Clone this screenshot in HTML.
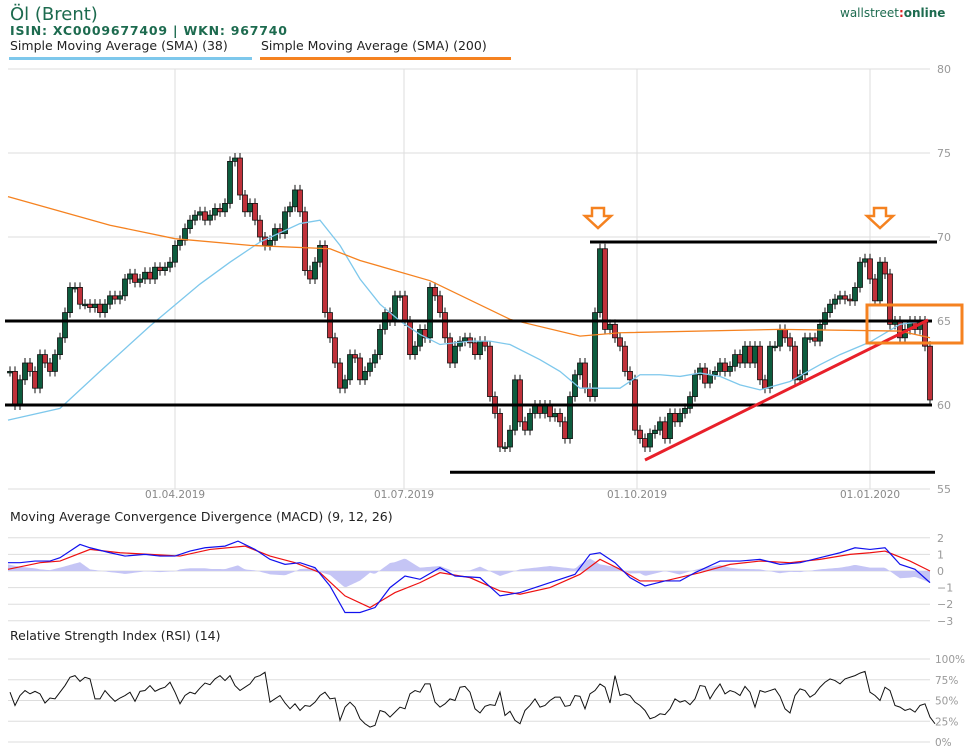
<!DOCTYPE html>
<html><head><meta charset="utf-8"><style>
body{margin:0;background:#fff;width:976px;height:750px;overflow:hidden;font-family:"DejaVu Sans","Liberation Sans",sans-serif}
svg{position:absolute;left:0;top:0}
</style></head><body>
<svg id="c" width="976" height="750" xmlns="http://www.w3.org/2000/svg">
<text x="10" y="20" font-size="18" fill="#1d6b4f">Öl (Brent)</text>
<text x="10" y="35" font-size="12.5" font-weight="bold" fill="#1d6b4f" letter-spacing="0.8">ISIN: XC0009677409  | WKN: 967740</text>
<text x="10" y="50" font-size="12.5" fill="#222">Simple Moving Average (SMA) (38)</text>
<rect x="9" y="57" width="243" height="3" fill="#7ec8ec"/>
<text x="261" y="50" font-size="12.5" fill="#222">Simple Moving Average (SMA) (200)</text>
<rect x="260" y="57" width="251" height="3" fill="#f58220"/>
<text x="840" y="17" font-size="12" fill="#1d6b4f">wallstreet<tspan fill="#d22" font-weight="bold">:</tspan><tspan font-weight="bold">online</tspan></text>
<text x="10" y="521" font-size="12.5" fill="#222">Moving Average Convergence Divergence (MACD) (9, 12, 26)</text>
<text x="10" y="640" font-size="12.5" fill="#222">Relative Strength Index (RSI) (14)</text>
<g id="g"></g>
</svg>
<script>
const closes=[62,60,61.5,62.5,62,61,63,62.5,62,63,64,65.5,67,67,66,66,65.8,66,65.5,66,66.5,66.3,66.5,67.5,67.8,67.3,67.5,67.9,67.5,68.2,68,68.2,68.5,69.5,69.8,70.5,71,71.3,71.5,71,71.3,71.7,71.5,72,74.5,74.7,72.5,71.5,72,71,70,69.5,69.8,70.5,70.2,71.5,71.8,72.8,71.5,68,67.5,68.5,69.5,65.5,64,62.5,61,61.5,63,62.8,61.5,62,62.5,63,64.5,65.5,65,66.5,66.5,65,63,63.5,64.5,64,67,66.5,65.5,64,62.5,63.5,63.8,64,63.7,63,63.8,63.5,60.5,59.5,57.5,57.5,58.5,61.5,59,58.5,59.5,60,59.5,60,59.3,59.5,59,58,60.5,61.8,62.5,61,60.5,65.5,69.3,64.5,64.8,64,63.5,62,61.5,58.5,58,57.5,58.3,58.5,59,58,59.5,59,59.5,59.8,60.5,61.8,62.2,61.3,61.8,62,62.5,62,62.3,63,62.5,63.5,62.5,63.5,61.5,61,63.5,63.5,64.5,64,63.5,61.5,61.8,64,64,63.8,64.8,65.5,66,66.3,66.5,66.3,66.2,67,68.5,68.7,67.5,66.2,68.5,67.8,64.8,65,64,64.5,65,64.5,65,63.5,60.3];
const smaX=[8,60,100,150,200,230,260,300,320,340,360,380,400,420,440,470,490,510,540,560,580,600,620,640,660,680,700,720,740,760,790,820,840,870,900,925];
const sma38=[59.1,59.8,62,64.7,67.2,68.5,69.7,70.8,71,69.5,67.5,66,65,64.2,63.6,63.8,63.8,63.6,62.7,62,61,61,61,61.8,61.8,61.7,61.9,61.7,61.2,60.9,61.4,62.4,63,63.75,64.8,65];
const sma200X=[8,110,175,250,330,360,430,510,580,620,780,900,930];
const sma200=[72.4,70.7,69.9,69.5,69.3,68.6,67.4,65.1,64.1,64.3,64.5,64.4,64];
const macdX=[8,20,35,50,60,80,90,110,125,145,160,175,190,205,225,238,255,270,285,300,315,330,345,360,375,390,405,420,440,455,480,500,520,540,555,575,590,600,615,630,645,665,680,695,720,740,760,780,800,820,840,855,870,885,900,915,930];
const macdLine=[0.5,0.5,0.6,0.6,0.8,1.6,1.4,1.1,0.9,1.0,0.9,0.9,1.2,1.4,1.5,1.8,1.3,0.7,0.4,0.5,0.2,-0.9,-2.5,-2.5,-2.2,-1.0,-0.3,-0.5,0.2,-0.3,-0.4,-1.5,-1.3,-0.9,-0.6,-0.2,1.0,1.1,0.5,-0.4,-0.9,-0.6,-0.6,-0.1,0.6,0.6,0.7,0.4,0.5,0.8,1.1,1.4,1.3,1.4,0.4,0.1,-0.7];
const sigX=[8,40,60,90,120,150,180,210,245,270,295,320,345,370,395,420,440,470,500,520,550,580,600,620,640,665,700,730,760,790,820,850,870,885,910,930];
const sigLine=[0.1,0.5,0.6,1.3,1.1,1.0,0.9,1.3,1.5,0.9,0.5,-0.1,-1.5,-2.2,-1.3,-0.7,-0.1,-0.4,-1.2,-1.4,-1.0,-0.2,0.7,0.1,-0.6,-0.6,-0.1,0.4,0.6,0.5,0.7,1.0,1.1,1.2,0.6,0.0];
const rsi=[60,44,56,62,58,61,58,47,53,52,60,68,78,80,73,78,76,52,52,62,55,49,53,56,60,49,61,62,68,61,64,66,72,60,46,56,60,58,65,71,69,76,80,74,80,68,62,66,70,78,80,84,48,52,56,47,40,46,38,44,43,48,56,60,52,53,26,42,48,42,28,22,18,20,38,36,30,36,42,40,58,62,60,70,70,48,42,46,52,50,66,67,60,40,35,43,45,44,60,32,37,26,22,38,44,52,42,44,50,54,54,43,44,56,55,40,58,62,70,66,47,80,56,58,56,48,44,38,28,30,34,33,40,52,48,50,45,52,68,67,52,62,70,58,62,60,56,67,60,42,62,60,62,64,55,40,35,56,64,62,54,58,66,72,76,74,70,76,78,80,83,85,60,56,50,66,62,44,42,38,40,36,44,46,30,22];
const priceTicks=[80,75,70,65,60,55];
const macdTicks=[2,1,0,-1,-2,-3];
const rsiTicks=[100,75,50,25,0];
const dateLabels=["01.04.2019","01.07.2019","01.10.2019","01.01.2020"];
const datePos=[175,404,637,870];

const NS="http://www.w3.org/2000/svg",G=document.getElementById('g');
function el(t,a){const e=document.createElementNS(NS,t);for(const k in a)e.setAttribute(k,a[k]);G.appendChild(e);return e;}
const yP=v=>69+(80-v)*16.8, yM=v=>571-v*16.6, yR=v=>742-v*0.83, xI=i=>10+i*5;
const L=8,R=930;
// grids
priceTicks.forEach(t=>{const l=el('line',{x1:L,x2:R,y1:yP(t),y2:yP(t),stroke:'#ddd'});


const tx=el('text',{x:937,y:yP(t)+4,'font-size':11,fill:'#999'});tx.textContent=t;

});
datePos.forEach((x,i)=>{const l=el('line',{x1:x,x2:x,y1:69,y2:489,stroke:'#ddd'});


const tx=el('text',{x:x,y:498,'font-size':10.5,fill:'#888','text-anchor':'middle'});tx.textContent=dateLabels[i];

});
macdTicks.forEach(t=>{const l=el('line',{x1:L,x2:R,y1:yM(t),y2:yM(t),stroke:'#ddd'});


const tx=el('text',{x:937,y:yM(t)+4,'font-size':11,fill:'#999'});tx.textContent=t<0?'−'+(-t):t;

});
rsiTicks.forEach(t=>{const l=el('line',{x1:L,x2:R,y1:yR(t),y2:yR(t),stroke:'#ddd'});


const tx=el('text',{x:935,y:yR(t)+4,'font-size':10.5,fill:'#999'});tx.textContent=t+'%';

});
function poly(xs,vs,f,col,w,name){const p=el('polyline',{points:xs.map((x,i)=>x+','+f(vs[i])).join(' '),fill:'none',stroke:col,'stroke-width':w});

return p;}
// candles
closes.forEach((c,i)=>{const o=i?closes[i-1]:c,x=xI(i),up=c>=o;
const hi=Math.max(o,c)+0.3,lo=Math.min(o,c)-0.3;
const w=el('line',{x1:x,x2:x,y1:yP(hi),y2:yP(lo),stroke:'#111','stroke-width':1});


const y1=yP(Math.max(o,c)),h=Math.max(1.5,yP(Math.min(o,c))-y1);
const b=el('rect',{x:x-2.5,y:y1,width:5,height:h,fill:up?'#0d5c3e':'#c0313a',stroke:'#111','stroke-width':0.8});

});
poly(smaX,sma38,yP,'#7ec8ec',1.3,'sma38-line');
poly(sma200X,sma200,yP,'#f58220',1.3,'sma200-line');
// annotations
[[590,937,69.7],[5,932,65],[5,932,60],[450,935,56]].forEach(a=>{const l=el('line',{x1:a[0],x2:a[1],y1:yP(a[2]),y2:yP(a[2]),stroke:'#000','stroke-width':3});

});
const tl=el('line',{x1:645,y1:460,x2:928,y2:320,stroke:'#e8202a','stroke-width':3});


[598,880].forEach(x=>{const a=el('path',{d:`M${x-6},208 h12 v8 h7 l-13,12 l-13,-12 h7z`,fill:'#fff',stroke:'#f58220','stroke-width':2.5});

});
const bx=el('rect',{x:867,y:305,width:95,height:38,fill:'none',stroke:'#f58220','stroke-width':3});


// macd histogram
function interp(xs,vs,x){if(x<=xs[0])return vs[0];for(let i=1;i<xs.length;i++)if(x<=xs[i]){const t=(x-xs[i-1])/(xs[i]-xs[i-1]);return vs[i-1]+t*(vs[i]-vs[i-1]);}return vs[vs.length-1];}
let pts=[];for(let x=8;x<=930;x+=2){pts.push(x+','+yM(interp(macdX,macdLine,x)-interp(sigX,sigLine,x)));}
const hist=el('polygon',{points:'8,'+yM(0)+' '+pts.join(' ')+' 930,'+yM(0),fill:'#c5c5f5',stroke:'none'});


poly(sigX,sigLine,yM,'#ee1111',1.2,'macd-signal-line');
poly(macdX,macdLine,yM,'#1111ee',1.2,'macd-line');
poly(rsi.map((v,i)=>xI(i)),rsi,yR,'#111',1,'rsi-line');
</script>
</body></html>
